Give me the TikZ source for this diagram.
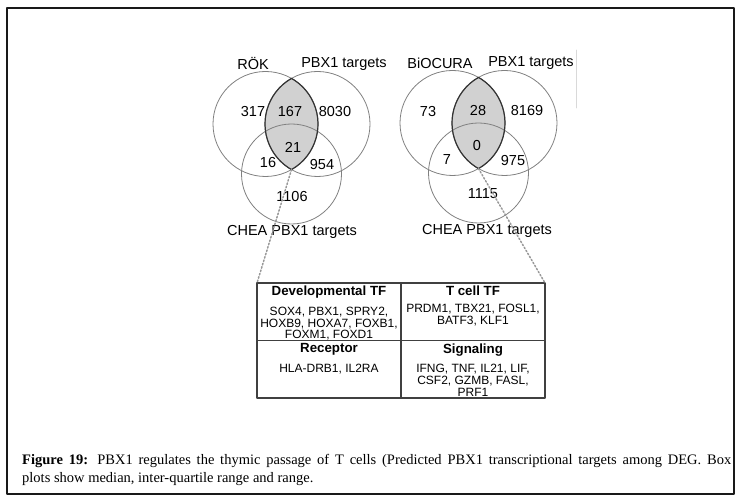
\documentclass[tikz,border=0pt]{standalone}
\usepackage{fontspec}
\setmainfont{Liberation Serif}
\setsansfont{Liberation Sans}
\usetikzlibrary{positioning}

\begin{document}
\begin{tikzpicture}[
			x=1pt, y=1pt,
			line join=round,
			line cap=round,
			kreis/.style={draw=black!50, line width=0.8pt},
			linse/.style={fill=black!18},
			rand/.style={draw=black!80, line width=1.2pt},
			zahl/.style={font=\sffamily\fontsize{14.5}{17}\selectfont, inner sep=0pt},
			zelle/.style={draw=black!75, line width=1.4pt, minimum width=144pt,
				minimum height=57.5pt, inner sep=0pt, outer sep=0pt},
			eintrag/.style={font=\sffamily\fontsize{12}{11.7}\selectfont, align=center, inner sep=0pt},
			kopf/.style={font=\sffamily\bfseries\fontsize{13.3}{13}\selectfont, inner sep=0pt},
			punkte/.style={draw=black!40, dotted, line width=1.5pt}
			]
			\useasboundingbox (0,0) rectangle (742,-497);
			\draw[line width=1.3pt, black!90] (7,-8) rectangle (734,-494);
			\draw[black!15, line width=0.8pt] (576,-50) -- (576,-108);
			% Venn links
			\begin{scope}[shift={(0,0)}]
				\begin{scope}
					\clip (265.5,-124) circle[radius=52.5];
					\fill[linse] (317.5,-124) circle[radius=52.5];
				\end{scope}
				\draw[kreis] (265.5,-124) circle[radius=52.5];
				\draw[kreis] (317.5,-124) circle[radius=52.5];
				\draw[kreis] (291.5,-174) circle[radius=50];
				\draw[rand] (291.5,-78.4)
				arc[start angle=119.7, end angle=240.3, radius=52.5]
				arc[start angle=-60.3, end angle=60.3, radius=52.5] -- cycle;
				\coordinate (lensA) at (291.5,-169.6);
				\node[zahl] (rok) at (253,-64) {RÖK};
				\node[zahl] (pbxA) at (344,-64) {PBX1 targets};
				\node[zahl] at (253,-112) {317};
				\node[zahl] at (290,-112) {167};
				\node[zahl] at (335,-112) {8030};
				\node[zahl] at (293,-147) {21};
				\node[zahl] at (268,-163) {16};
				\node[zahl] at (322,-165) {954};
				\node[zahl] at (292,-197) {1106};
				\node[zahl] (cheaA) at (292,-232) {CHEA PBX1 targets};
			\end{scope}
			% Venn rechts
			\begin{scope}[shift={(187,1)}]
				\begin{scope}
					\clip (265.5,-124) circle[radius=52.5];
					\fill[linse] (317.5,-124) circle[radius=52.5];
				\end{scope}
				\draw[kreis] (265.5,-124) circle[radius=52.5];
				\draw[kreis] (317.5,-124) circle[radius=52.5];
				\draw[kreis] (291.5,-174) circle[radius=50];
				\draw[rand] (291.5,-78.4)
				arc[start angle=119.7, end angle=240.3, radius=52.5]
				arc[start angle=-60.3, end angle=60.3, radius=52.5] -- cycle;
				\coordinate (lensB) at (291.5,-169.6);
				\node[zahl] (biocura) at (253,-64) {BiOCURA};
				\node[zahl] (pbxB) at (344,-64) {PBX1 targets};
				\node[zahl] at (241,-113) {73};
				\node[zahl] at (291,-112) {28};
				\node[zahl] at (340,-112) {8169};
				\node[zahl] at (290,-147) {0};
				\node[zahl] at (260,-161) {7};
				\node[zahl] at (326,-162) {975};
				\node[zahl] at (296,-195) {1115};
				\node[zahl] (cheaB) at (300,-232) {CHEA PBX1 targets};
			\end{scope}
			% Tabelle
			\node[zelle, anchor=north west] (devtf) at (257,-283) {};
			\node[zelle, right=0pt of devtf] (tcelltf) {};
			\node[zelle, below=0pt of devtf] (rezeptor) {};
			\node[zelle, right=0pt of rezeptor] (signal) {};
			\node[kopf, below=3pt of devtf.north] (devkopf) {Developmental TF};
			\node[kopf, below=3pt of tcelltf.north] (tcellkopf) {T cell TF};
			\node[kopf, below=3pt of rezeptor.north] (rezkopf) {Receptor};
			\node[kopf, below=3pt of signal.north] (sigkopf) {Signaling};
			\node[eintrag, below=8pt of devkopf] {SOX4, PBX1, SPRY2,\\HOXB9, HOXA7, FOXB1,\\FOXM1, FOXD1};
			\node[eintrag, below=8pt of tcellkopf] {PRDM1, TBX21, FOSL1,\\BATF3, KLF1};
			\node[eintrag, below=8pt of rezkopf] {HLA-DRB1, IL2RA};
			\node[eintrag, below=8pt of sigkopf] {IFNG, TNF, IL21, LIF,\\CSF2, GZMB, FASL,\\PRF1};
			\draw[punkte] (lensA) -- (devtf.north west);
			\draw[punkte] (lensB) -- (tcelltf.north east);
			% Legende
			\node[anchor=north west, text width=709pt, align=justify, inner sep=0pt,
				font=\fontsize{14.5}{18}\selectfont] (legende) at (22,-454)
				{\textbf{Figure 19:} PBX1 regulates the thymic passage of T cells (Predicted PBX1 transcriptional targets among DEG. Box\linebreak plots show median, inter-quartile range and range.};
		\end{tikzpicture}
\end{document}
